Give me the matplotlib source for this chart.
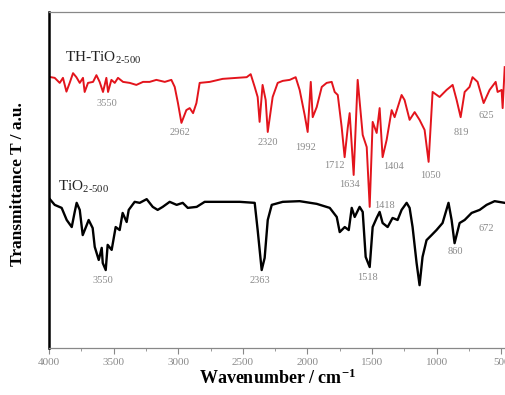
import matplotlib
matplotlib.use("Agg")
import matplotlib.pyplot as plt
from matplotlib.ticker import MultipleLocator

plt.rcParams["font.family"] = ["Liberation Serif", "DejaVu Serif"]
plt.rcParams["mathtext.fontset"] = "custom"
plt.rcParams["mathtext.rm"] = "Liberation Serif"
plt.rcParams["mathtext.it"] = "Liberation Serif:italic"
plt.rcParams["mathtext.bf"] = "Liberation Serif:bold"

# ==============================
# DADOS
# ==============================
wn_th = [4000, 3956, 3917, 3892, 3865, 3840, 3814, 3788, 3762, 3737, 3724, 3698,
         3659, 3633, 3608, 3582, 3556, 3543, 3517, 3491, 3466, 3427, 3375, 3324,
         3272, 3221, 3169, 3104, 3053, 3027, 3002, 2975, 2937, 2911, 2885, 2859,
         2834, 2756, 2656, 2547, 2470, 2439, 2408, 2385, 2370, 2347, 2323, 2307,
         2292, 2269, 2230, 2191, 2137, 2091, 2060, 2021, 1998, 1974, 1959, 1928,
         1889, 1851, 1812, 1789, 1765, 1735, 1712, 1688, 1673, 1642, 1611, 1572,
         1541, 1518, 1495, 1464, 1441, 1418, 1387, 1348, 1325, 1271, 1248, 1209,
         1170, 1132, 1093, 1062, 1031, 977, 923, 876, 845, 814, 783, 745, 722,
         683, 636, 590, 543, 528, 497, 489, 473]
t_th = [80.7, 80.4, 78.9, 80.4, 76.3, 78.9, 81.8, 80.6, 78.9, 80.4, 76.2, 78.9,
        79.2, 81.2, 79.2, 76.2, 80.4, 76.2, 79.8, 78.9, 80.4, 79.2, 78.9, 78.3,
        79.2, 79.2, 79.8, 79.2, 79.8, 77.7, 72.9, 67.0, 70.8, 71.4, 69.9, 72.9,
        78.9, 79.2, 80.1, 80.4, 80.6, 81.5, 77.7, 74.7, 67.3, 78.3, 73.8, 64.3,
        68.4, 74.7, 78.9, 79.5, 79.8, 80.6, 76.8, 69.3, 64.3, 79.2, 68.7, 71.7,
        77.7, 78.9, 79.2, 76.2, 75.3, 65.8, 56.8, 65.5, 69.9, 51.5, 79.8, 63.4,
        59.8, 42.0, 67.3, 64.0, 71.4, 56.8, 61.9, 70.8, 68.7, 75.3, 73.8, 67.9,
        70.2, 67.9, 64.9, 55.4, 76.2, 74.7, 76.8, 78.3, 73.8, 68.7, 76.2, 77.7, 80.6,
        79.2, 72.9, 76.8, 79.2, 76.2, 76.8, 71.4, 83.6]

wn_tio2 = [4000, 3956, 3902, 3863, 3824, 3801, 3786, 3762, 3739, 3708, 3693, 3662,
           3646, 3615, 3592, 3584, 3561, 3546, 3515, 3484, 3453, 3430, 3399, 3383,
           3337, 3298, 3244, 3197, 3159, 3120, 3066, 3012, 2965, 2926, 2857, 2795,
           2656, 2524, 2408, 2385, 2354, 2331, 2307, 2276, 2191, 2060, 1928, 1827,
           1773, 1750, 1711, 1680, 1657, 1634, 1596, 1572, 1549, 1518, 1495, 1464,
           1441, 1418, 1379, 1341, 1302, 1271, 1232, 1209, 1186, 1155, 1132, 1109,
           1078, 1039, 1001, 954, 908, 884, 861, 822, 783, 729, 667, 613, 551, 473]
t_tio2 = [44.6, 42.6, 41.7, 38.1, 36.0, 40.5, 43.2, 41.1, 33.6, 36.6, 38.1, 35.7,
          30.1, 26.2, 29.8, 25.3, 23.2, 30.7, 29.2, 36.0, 35.1, 40.2, 37.5, 41.1,
          43.5, 43.2, 44.3, 42.0, 41.1, 42.0, 43.5, 42.6, 43.2, 41.7, 42.0, 43.5,
          43.5, 43.5, 43.2, 35.1, 23.2, 26.8, 38.1, 42.6, 43.5, 43.7, 42.9, 41.7,
          39.0, 34.5, 36.0, 35.1, 41.7, 39.0, 42.0, 40.5, 27.1, 24.1, 36.0, 38.7,
          40.5, 37.2, 36.0, 38.7, 38.1, 41.1, 43.2, 41.7, 36.0, 25.3, 18.7, 27.1,
          32.1, 33.6, 35.1, 37.2, 43.2, 38.1, 31.2, 37.2, 38.1, 40.2, 41.1, 42.6,
          43.7, 43.2]

# rotulos dos picos: (texto, numero de onda, T)
picos_th = [("3550", 3553, 72.9), ("2962", 2988, 64.0), ("2320", 2307, 61.3),
            ("1992", 2013, 59.8), ("1712", 1789, 54.2), ("1634", 1673, 48.8),
            ("1404", 1331, 53.9), ("1050", 1047, 51.2), ("819", 806, 64.0),
            ("625", 612, 69.3), ("1418", 1402, 42.3)]
picos_tio2 = [("3550", 3584, 20.2), ("2363", 2369, 20.2), ("1518", 1534, 21.1),
              ("860", 852, 28.6), ("672", 619, 35.7)]

W, H = 506, 395
fig = plt.figure(figsize=(W / 100, H / 100), dpi=100)
ax = fig.add_axes([49 / W, 47 / H, (W - 49) / W, 336 / H])

ax.plot(wn_th, t_th, color="#e3141c", lw=1.4)
ax.plot(wn_tio2, t_tio2, color="black", lw=1.7)

for txt, w, t in picos_th + picos_tio2:
    ax.text(w, t, txt, fontsize=7.5, color="#8a8a8a", ha="center", va="center")

ax.text(3878, 86.3, r"TH-TiO$_{\rm 2\text{-}500}$", fontsize=11, color="#222222",
        ha="left", va="center")
ax.text(3933, 47.9, r"TiO$_{\rm 2\text{-}500}$", fontsize=11, color="#222222",
        ha="left", va="center")

ax.set_xlim(4000, 463)
ax.set_ylim(0, 100)
ax.xaxis.set_major_locator(MultipleLocator(500))
ax.xaxis.set_minor_locator(MultipleLocator(250))
ax.set_yticks([])
ax.tick_params(axis="x", which="major", length=4, width=0.8, color="#888888",
               labelsize=8, labelcolor="#8a8a8a", pad=3)
ax.tick_params(axis="x", which="minor", length=2, width=0.6, color="#888888")

ax.spines["left"].set_linewidth(1.8)
ax.spines["left"].set_color("black")
for lado in ["top", "bottom"]:
    ax.spines[lado].set_linewidth(0.9)
    ax.spines[lado].set_color("#888888")
ax.spines["right"].set_visible(False)

ax.set_xlabel(r"Wavenumber / cm$^{\mathbf{-1}}$", fontsize=13, fontweight="bold",
              labelpad=1)
fig.text(18 / W, 1 - 184 / H, "Transmittance T / a.u.", rotation=90, fontsize=12.5,
         fontweight="bold", ha="center", va="center")

fig.savefig("out.png", dpi=100)
